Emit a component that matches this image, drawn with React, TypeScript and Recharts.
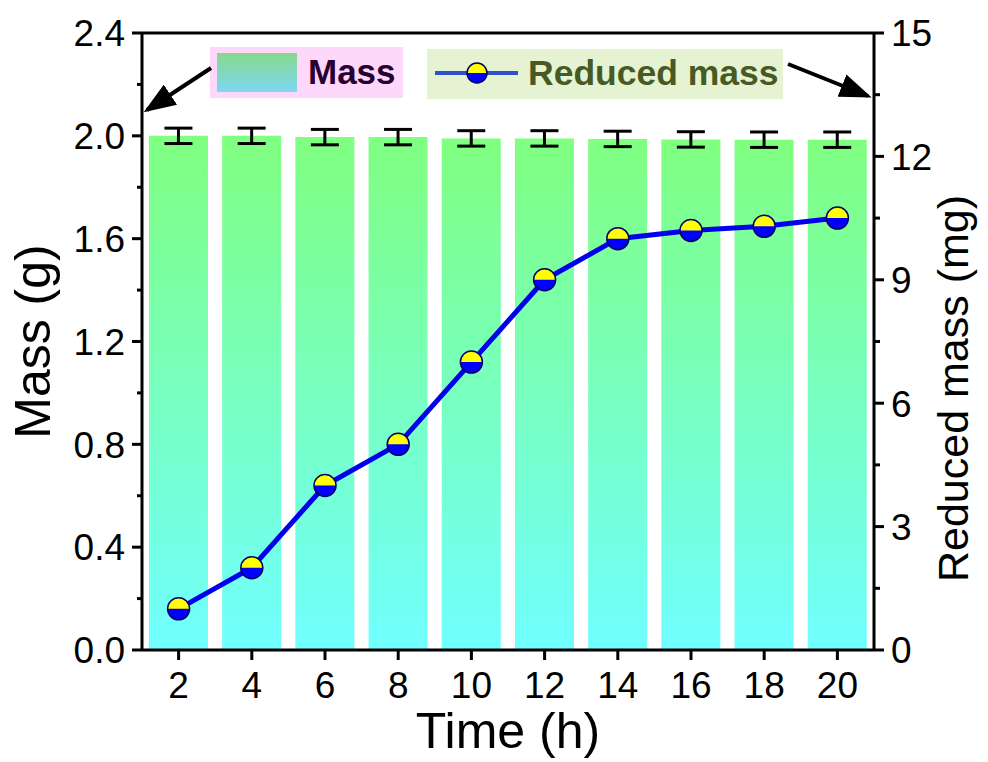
import React from 'react';
import {
  ComposedChart,
  Bar,
  Line,
  XAxis,
  YAxis,
  ErrorBar,
  ReferenceLine,
  Legend,
  Label,
} from 'recharts';

const times = [2, 4, 6, 8, 10, 12, 14, 16, 18, 20];
const massValues = [2.0, 2.0, 1.995, 1.995, 1.99, 1.99, 1.988, 1.986, 1.985, 1.985];
const massErrors = [0.03, 0.03, 0.03, 0.03, 0.03, 0.03, 0.03, 0.03, 0.03, 0.03];
const reducedValues = [1.0, 2.0, 4.0, 5.0, 7.0, 9.0, 10.0, 10.2, 10.3, 10.5];

const leftTicks = [0, 0.2, 0.4, 0.6, 0.8, 1.0, 1.2, 1.4, 1.6, 1.8, 2.0, 2.2, 2.4];
const rightTicks = [0, 1.5, 3, 4.5, 6, 7.5, 9, 10.5, 12, 13.5, 15];

const data = times.map((t, i) => ({
  time: t,
  mass: massValues[i],
  err: massErrors[i],
  reduced: reducedValues[i],
}));

const FONT = '"Liberation Sans", Arial, sans-serif';
const TICK_SIZE = 10;
const TICK_MARGIN = 7;
const TICK_FONT = 37;
const LINE_BLUE = '#0000EE';

function isMajor(v: number, step: number) {
  const r = v / step;
  return Math.abs(r - Math.round(r)) < 1e-6;
}

function LeftTick(props: any) {
  const { x, y, payload } = props;
  const major = isMajor(payload.value, 0.4);
  const ax = x + TICK_SIZE + TICK_MARGIN;
  return (
    <g>
      <line x1={ax} x2={ax - (major ? 10 : 5)} y1={y} y2={y} stroke="#000" strokeWidth={3} />
      {major && (
        <text x={x} y={y} dy="0.36em" textAnchor="end" fontFamily={FONT} fontSize={TICK_FONT} fill="#000">
          {payload.value.toFixed(1)}
        </text>
      )}
    </g>
  );
}

function RightTick(props: any) {
  const { x, y, payload } = props;
  const major = isMajor(payload.value, 3);
  const ax = x - TICK_SIZE - TICK_MARGIN;
  return (
    <g>
      <line x1={ax} x2={ax + (major ? 10 : 6)} y1={y} y2={y} stroke="#000" strokeWidth={3} />
      {major && (
        <text x={x} y={y} dy="0.36em" textAnchor="start" fontFamily={FONT} fontSize={TICK_FONT} fill="#000">
          {payload.value}
        </text>
      )}
    </g>
  );
}

function HalfDot(props: any) {
  const { cx, cy, r = 11 } = props;
  if (cx == null || cy == null) return null;
  return (
    <g>
      <circle cx={cx} cy={cy} r={r} fill="#0000FF" />
      <path d={`M${cx - r},${cy} A${r},${r} 0 0 1 ${cx + r},${cy} Z`} fill="#FFFF00" />
      <circle cx={cx} cy={cy} r={r} fill="none" stroke="#000066" strokeWidth={1.5} />
    </g>
  );
}

function LegendBoxes() {
  return (
    <div style={{ position: 'relative', width: 988, height: 120, fontFamily: FONT }}>
      <div
        style={{
          position: 'absolute', left: 210, top: 0, width: 193, height: 51,
          background: '#FDD8FA',
        }}
      >
        <div
          style={{
            position: 'absolute', left: 7, top: 6, width: 80, height: 39,
            background: 'linear-gradient(to bottom, #86D98A, #7DD8F4)',
          }}
        />
        <span
          style={{
            position: 'absolute', left: 98, top: 5, fontSize: 35, fontWeight: 700,
            color: '#2A0033', lineHeight: '40px',
          }}
        >
          Mass
        </span>
      </div>
      <div
        style={{
          position: 'absolute', left: 427, top: 2, width: 356, height: 50,
          background: '#E5F3D2',
        }}
      >
        <svg width={100} height={50} style={{ position: 'absolute', left: 0, top: 0 }}>
          <line x1={8} x2={91} y1={24} y2={24} stroke="#3350CC" strokeWidth={4} />
          <HalfDot cx={50} cy={24} r={10} />
        </svg>
        <span
          style={{
            position: 'absolute', left: 101, top: 4, fontSize: 35.5, fontWeight: 700,
            color: '#485A24', lineHeight: '40px', whiteSpace: 'nowrap',
          }}
        >
          Reduced mass
        </span>
      </div>
    </div>
  );
}

export default function App() {
  return (
    <div style={{ position: 'absolute', left: 0, top: 0, width: 988, height: 762, background: '#fff' }}>
      <ComposedChart
        width={988}
        height={762}
        data={data}
        margin={{ top: 33, right: 0, bottom: 0, left: 0 }}
        barCategoryGap="9.5%"
      >
        <defs>
          <linearGradient id="massGrad" x1="0" y1="0" x2="0" y2="1">
            <stop offset="0%" stopColor="#80FF80" />
            <stop offset="100%" stopColor="#70FFFF" />
          </linearGradient>
        </defs>
        <XAxis
          dataKey="time"
          height={112}
          tickSize={TICK_SIZE}
          tickMargin={12}
          axisLine={{ stroke: '#000', strokeWidth: 3 }}
          tickLine={{ stroke: '#000', strokeWidth: 3 }}
          tick={{ fontFamily: FONT, fontSize: TICK_FONT, fill: '#000' }}
        >
          <Label
            content={({ viewBox }: any) => (
              <text
                x={viewBox.x + viewBox.width / 2}
                y={viewBox.y + 98}
                textAnchor="middle"
                fontFamily={FONT}
                fontSize={50}
                fill="#000"
              >
                Time (h)
              </text>
            )}
          />
        </XAxis>
        <YAxis
          yAxisId="left"
          width={142}
          domain={[0, 2.4]}
          ticks={leftTicks}
          interval={0}
          tickSize={TICK_SIZE}
          tickMargin={TICK_MARGIN}
          axisLine={{ stroke: '#000', strokeWidth: 3 }}
          tickLine={{ stroke: 'none' }}
          tick={<LeftTick />}
        >
          <Label
            content={({ viewBox }: any) => (
              <text
                transform={`translate(${viewBox.x + 50},${viewBox.y + viewBox.height / 2}) rotate(-90)`}
                textAnchor="middle"
                fontFamily={FONT}
                fontSize={50}
                fill="#000"
              >
                Mass (g)
              </text>
            )}
          />
        </YAxis>
        <YAxis
          yAxisId="right"
          orientation="right"
          width={114}
          domain={[0, 15]}
          ticks={rightTicks}
          interval={0}
          tickSize={TICK_SIZE}
          tickMargin={TICK_MARGIN}
          axisLine={{ stroke: '#000', strokeWidth: 3 }}
          tickLine={{ stroke: 'none' }}
          tick={<RightTick />}
        >
          <Label
            content={({ viewBox }: any) => (
              <text
                transform={`translate(${viewBox.x + 94},${viewBox.y + viewBox.height / 2 + 47}) rotate(-90)`}
                textAnchor="middle"
                fontFamily={FONT}
                fontSize={43}
                fill="#000"
              >
                Reduced mass (mg)
              </text>
            )}
          />
        </YAxis>
        <ReferenceLine yAxisId="left" y={2.4} stroke="#000" strokeWidth={3} />
        <Bar
          yAxisId="left"
          dataKey="mass"
          name="Mass"
          fill="url(#massGrad)"
          isAnimationActive={false}
        >
          <ErrorBar dataKey="err" width={14} stroke="#000" strokeWidth={3} />
        </Bar>
        <Line
          yAxisId="right"
          dataKey="reduced"
          name="Reduced mass"
          stroke={LINE_BLUE}
          strokeWidth={5}
          dot={<HalfDot r={11} />}
          activeDot={false}
          isAnimationActive={false}
        />
        <Legend
          layout="horizontal"
          verticalAlign="middle"
          align="center"
          content={() => <LegendBoxes />}
          wrapperStyle={{ position: 'absolute', left: 0, top: 47, width: 988 }}
        />
      </ComposedChart>
      <svg
        width={988}
        height={762}
        style={{ position: 'absolute', left: 0, top: 0, pointerEvents: 'none' }}
      >
        <defs>
          <marker id="arrowHead" markerWidth="8" markerHeight="6" refX="7" refY="3" orient="auto" markerUnits="strokeWidth">
            <path d="M0,0 L8,3 L0,6 Z" fill="#000" />
          </marker>
        </defs>
        <line x1={211} y1={68} x2={147} y2={110} stroke="#000" strokeWidth={4} markerEnd="url(#arrowHead)" />
        <line x1={788} y1={64} x2={868} y2={96} stroke="#000" strokeWidth={4} markerEnd="url(#arrowHead)" />
      </svg>
    </div>
  );
}
